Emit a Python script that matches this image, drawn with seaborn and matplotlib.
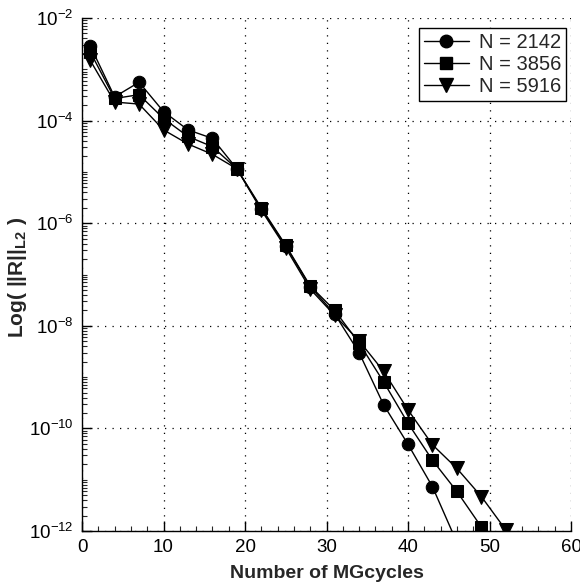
import numpy as np
import pandas as pd
import matplotlib
matplotlib.use("Agg")
import matplotlib.pyplot as plt
from matplotlib.lines import Line2D
from matplotlib.ticker import LogLocator, MultipleLocator, NullFormatter
import seaborn as sns

cycles_2142 = [1, 4, 7, 10, 13, 16, 19, 22, 25, 28, 31, 34, 37, 40, 43, 46]
res_2142 = [2.9e-3, 2.9e-4, 5.6e-4, 1.5e-4, 6.6e-5, 4.5e-5, 1.15e-5, 1.9e-6,
            3.6e-7, 5.8e-8, 1.7e-8, 3.0e-9, 2.9e-10, 4.9e-11, 7.3e-12, 6e-13]
cycles_3856 = [1, 4, 7, 10, 13, 16, 19, 22, 25, 28, 31, 34, 37, 40, 43, 46, 49]
res_3856 = [2.2e-3, 2.7e-4, 3.2e-4, 1.1e-4, 4.9e-5, 3.1e-5, 1.15e-5, 2.0e-6,
            3.7e-7, 6.0e-8, 2.0e-8, 4.6e-9, 8.1e-10, 1.26e-10, 2.4e-11, 5.9e-12, 1.2e-12]
cycles_5916 = [1, 4, 7, 10, 13, 16, 19, 22, 25, 28, 31, 34, 37, 40, 43, 46, 49, 52]
res_5916 = [1.5e-3, 2.3e-4, 2.1e-4, 6.6e-5, 3.5e-5, 2.2e-5, 1.15e-5, 1.8e-6,
            3.3e-7, 5.2e-8, 1.6e-8, 5.1e-9, 1.3e-9, 2.3e-10, 4.8e-11, 1.66e-11, 4.7e-12, 1.05e-12]
labels = ["N = 2142", "N = 3856", "N = 5916"]
marker_list = ["o", "s", "v"]
marker_sizes = [9, 8, 10]

series = [(cycles_2142, res_2142), (cycles_3856, res_3856), (cycles_5916, res_5916)]

sns.set_style("white")
plt.rcParams["font.family"] = ["Liberation Sans", "DejaVu Sans"]
plt.rcParams["mathtext.fontset"] = "custom"
plt.rcParams["mathtext.rm"] = "Liberation Sans"
plt.rcParams["mathtext.it"] = "Liberation Sans:italic"
plt.rcParams["mathtext.bf"] = "Liberation Sans:bold"

fig = plt.figure(figsize=(5.8, 5.88), dpi=100)
ax = fig.add_axes([0.1414, 0.0969, 0.8431, 0.8725])

for (cx, ry), lab, mk, ms in zip(series, labels, marker_list, marker_sizes):
    d = pd.DataFrame({"cycle": cx, "res": ry})
    sns.lineplot(data=d, x="cycle", y="res", color="black", marker=mk,
                 markersize=ms, markeredgecolor="black", linewidth=1.0,
                 ax=ax, label=lab, legend=False)

ax.set_yscale("log")
ax.set_xlim(0, 60)
ax.set_ylim(1e-12, 1e-2)
ax.set_yticks([1e-12, 1e-10, 1e-8, 1e-6, 1e-4, 1e-2])
ax.yaxis.set_minor_locator(LogLocator(base=10, subs=np.arange(1, 10), numticks=50))
ax.yaxis.set_minor_formatter(NullFormatter())
ax.xaxis.set_major_locator(MultipleLocator(10))
ax.xaxis.set_minor_locator(MultipleLocator(2))

ax.grid(True, which="major", color="black", linestyle=(0, (1, 5)), linewidth=0.9)
for s in ["top", "right"]:
    ax.spines[s].set_visible(False)
for s in ["left", "bottom"]:
    ax.spines[s].set_color("black")
    ax.spines[s].set_linewidth(1.0)

ax.tick_params(axis="both", which="major", direction="in", length=7, width=1,
               labelsize=13.5, colors="black", left=True, bottom=True, pad=6)
ax.tick_params(axis="both", which="minor", direction="in", length=3.5, width=0.8,
               left=True, bottom=True)

ax.set_xlabel("Number of MGcycles", fontsize=14, fontweight="bold", labelpad=6)
ax.set_ylabel(r"Log( ||R||$_{\mathbf{L2}}$ )", fontsize=15, fontweight="bold")
ax.yaxis.set_label_coords(-0.108, 0.495)

handles = [Line2D([0], [0], color="black", marker=m, markersize=s, linewidth=1.0)
           for m, s in zip(marker_list, marker_sizes)]
leg = ax.legend(handles, labels, loc="upper right", fontsize=14.5, frameon=True,
                fancybox=False, edgecolor="black", framealpha=1,
                handlelength=2.2, handletextpad=0.5, borderpad=0.25,
                labelspacing=0.15, borderaxespad=0,
                bbox_to_anchor=(0.99, 0.981))
leg.get_frame().set_linewidth(1.0)

fig.savefig("out.png", dpi=100, facecolor="white")
